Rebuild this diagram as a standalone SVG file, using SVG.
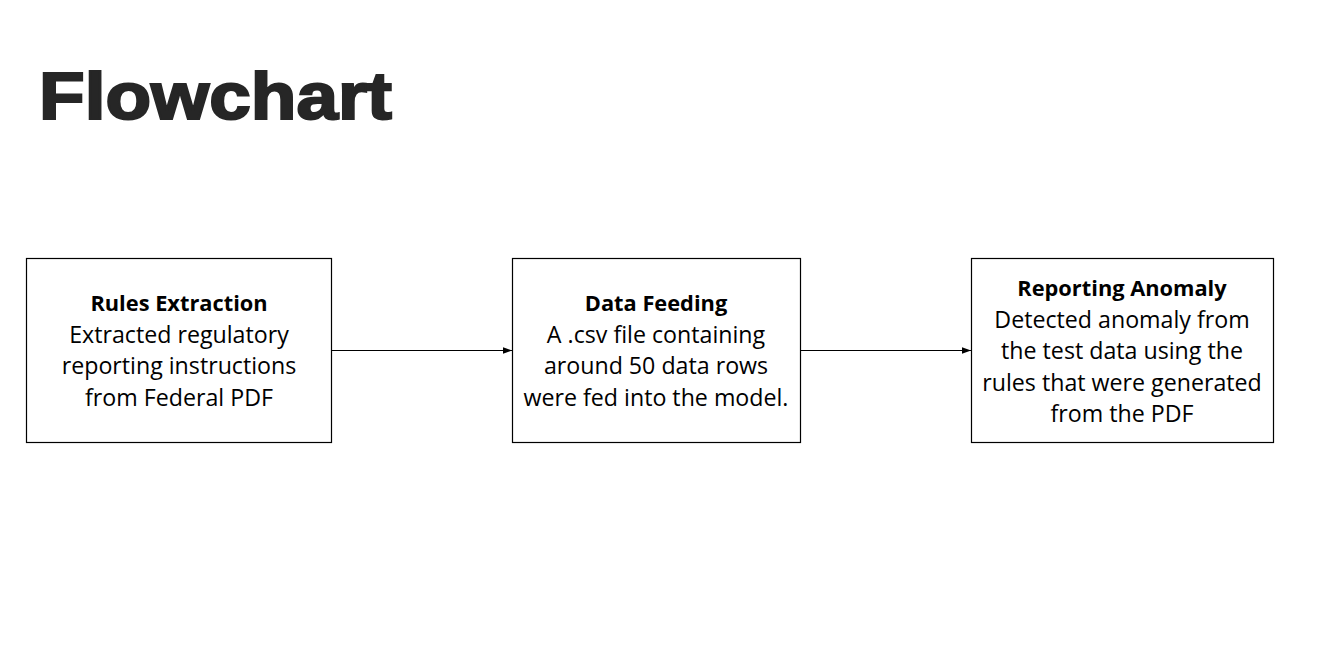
<svg xmlns="http://www.w3.org/2000/svg" width="1332" height="672" viewBox="0 0 1332 672">
<defs>
<style>
.box{fill:#fff;stroke:#000;stroke-width:1.2}
.t{font-family:"Open Sans","Noto Sans",sans-serif;font-size:23.2px;fill:#000;text-anchor:middle}
.b{font-weight:bold;font-size:21.8px}
.title{font-family:"Liberation Sans",Arial,sans-serif;font-weight:bold;font-size:67px;fill:#262626;stroke:#262626;stroke-width:2.2}
.edge{stroke:#000;stroke-width:1.2;fill:none}
</style>
<marker id="ah" markerWidth="9" markerHeight="8" refX="9" refY="4" orient="auto" markerUnits="userSpaceOnUse">
<path d="M0,0.8 L9,4 L0,7.2 Z" fill="#000"/>
</marker>
</defs>
<rect width="1332" height="672" fill="#fff"/>
<text class="title" x="39" y="119" textLength="353" lengthAdjust="spacingAndGlyphs">Flowchart</text>
<g id="connectors">
<line class="edge" x1="331" y1="350.5" x2="512" y2="350.5" marker-end="url(#ah)"/>
<line class="edge" x1="800" y1="350.5" x2="971" y2="350.5" marker-end="url(#ah)"/>
</g>
<g id="rules-extraction">
<rect class="box" x="26.5" y="258.5" width="305" height="184"/>
<text class="t b" x="179" y="311">Rules Extraction</text>
<text class="t" x="179" y="343">Extracted regulatory</text>
<text class="t" x="179" y="374">reporting instructions</text>
<text class="t" x="179" y="406">from Federal PDF</text>
</g>
<g id="data-feeding">
<rect class="box" x="512.5" y="258.5" width="288" height="184"/>
<text class="t b" x="656" y="311">Data Feeding</text>
<text class="t" x="656" y="343">A .csv file containing</text>
<text class="t" x="656" y="374">around 50 data rows</text>
<text class="t" x="656" y="406">were fed into the model.</text>
</g>
<g id="reporting-anomaly">
<rect class="box" x="971.5" y="258.5" width="302" height="184"/>
<text class="t b" x="1122" y="296">Reporting Anomaly</text>
<text class="t" x="1122" y="328">Detected anomaly from</text>
<text class="t" x="1122" y="359">the test data using the</text>
<text class="t" x="1122" y="391">rules that were generated</text>
<text class="t" x="1122" y="422">from the PDF</text>
</g>
</svg>
